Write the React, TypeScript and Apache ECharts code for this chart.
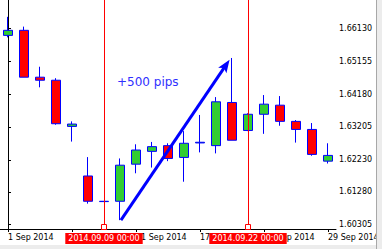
import React, { useEffect, useRef } from "react";
import * as echarts from "echarts";

const dates = [
  "2014.09.01", "2014.09.02", "2014.09.03", "2014.09.04", "2014.09.05",
  "2014.09.08", "2014.09.09", "2014.09.10", "2014.09.11", "2014.09.12",
  "2014.09.15", "2014.09.16", "2014.09.17", "2014.09.18", "2014.09.19",
  "2014.09.22", "2014.09.23", "2014.09.24", "2014.09.25", "2014.09.26",
  "2014.09.29",
];
const opens = [
  1.6592, 1.6607, 1.6468, 1.6459, 1.6322, 1.6175, 1.6099, 1.61, 1.621, 1.6248,
  1.6265, 1.623, 1.6273, 1.6265, 1.6393, 1.631, 1.6358, 1.6385, 1.6337, 1.6313,
  1.6219,
];
const closes = [
  1.6607, 1.6468, 1.6459, 1.633, 1.6329, 1.61, 1.61, 1.6207, 1.6252, 1.6262,
  1.6227, 1.6272, 1.6275, 1.6395, 1.6281, 1.6358, 1.6388, 1.6337, 1.6313, 1.6239,
  1.6236,
];
const lows = [
  1.6586, 1.6468, 1.6438, 1.6327, 1.6277, 1.6093, 1.6099, 1.6044, 1.6183, 1.62,
  1.6219, 1.6158, 1.6245, 1.6242, 1.6281, 1.6308, 1.63, 1.6324, 1.6274, 1.6235,
  1.6212,
];
const highs = [
  1.6647, 1.6618, 1.6499, 1.6465, 1.6337, 1.6231, 1.61, 1.6227, 1.6269, 1.6276,
  1.6272, 1.6308, 1.6356, 1.6409, 1.6525, 1.6361, 1.6415, 1.6412, 1.6341, 1.6332,
  1.6272,
];

const xTickLabels = ["1 Sep 2014", "5 Sep 2014", "11 Sep 2014", "17 Sep 2014", "23 Sep 2014", "29 Sep 2014"];
const xTickStep = 4;
const yTickValues = [1.60305, 1.6128, 1.6223, 1.63205, 1.6418, 1.65155, 1.6613];
const yMin = 1.601775;
const yMax = 1.669694;
const markedDates = ["2014.09.09", "2014.09.22"];
const markedLabels = ["2014.09.09 00:00", "2014.09.22 00:00"];
const arrowFrom = [7.06, 1.6044];
const arrowTo = [13.62, 1.6504];
const annotationText = "+500 pips";

const FONT = "'DejaVu Sans', sans-serif";
const ARROW_HEAD = "path://M0,0 L5,13 L0,10 L-5,13 Z M-6.5,0 M6.5,13";

export default function App() {
  const ref = useRef<HTMLDivElement>(null);

  useEffect(() => {
    if (!ref.current) return;
    const chart = echarts.init(ref.current, undefined, { renderer: "svg" });
    const candles = dates.map((_, i) => [opens[i], closes[i], lows[i], highs[i]]);
    const markerY = yMin + (2 * (yMax - yMin)) / 229;

    const verticalLines = markedDates.map((d, k) => ({
      xAxis: dates.indexOf(d),
      symbol: "none",
      lineStyle: { color: "#ff0000", width: 1, type: "solid" },
      label: {
        show: true,
        position: "start",
        distance: 4,
        formatter: markedLabels[k],
        color: "#ffffff",
        backgroundColor: "#ff0000",
        padding: [1, 3, 1, 3],
        fontSize: 8,
        lineHeight: 9,
        fontFamily: FONT,
      },
    }));

    const option: any = {
      animation: false,
      grid: { left: 0, top: 0, width: 336, height: 229, containLabel: false },
      xAxis: [
        {
          type: "category",
          data: dates,
          boundaryGap: true,
          axisLine: { show: true, lineStyle: { color: "#000", width: 1 } },
          axisTick: {
            show: true,
            alignWithLabel: true,
            interval: (i: number) => i % xTickStep === 0,
            length: 3,
            lineStyle: { color: "#000" },
          },
          axisLabel: {
            interval: (i: number) => i % xTickStep === 0,
            formatter: (_v: string, i: number) => xTickLabels[i / xTickStep] ?? "",
            align: "left",
            margin: 4,
            fontSize: 8,
            fontFamily: FONT,
            color: "#000",
          },
          splitLine: { show: false },
        },
        { type: "value", min: -0.5, max: dates.length - 0.5, show: false },
      ],
      yAxis: {
        type: "value",
        position: "right",
        min: yMin,
        max: yMax,
        offset: -2,
        axisLine: { show: true, lineStyle: { color: "#000", width: 1 } },
        axisTick: { show: true, customValues: yTickValues, length: 3, lineStyle: { color: "#000" } },
        axisLabel: {
          customValues: yTickValues,
          formatter: (v: number) => v.toFixed(5),
          margin: 5,
          fontSize: 8,
          fontFamily: FONT,
          color: "#000",
        },
        splitLine: { show: false },
      },
      series: [
        {
          type: "candlestick",
          xAxisIndex: 0,
          data: candles,
          barWidth: 10,
          silent: true,
          clip: false,
          itemStyle: {
            color: "#32cd32",
            color0: "#ff0000",
            borderColor: "#0000ff",
            borderColor0: "#0000ff",
            borderColorDoji: "#0000ff",
            borderWidth: 1,
          },
        },
        {
          type: "line",
          xAxisIndex: 1,
          data: [arrowFrom, arrowTo],
          symbol: "none",
          showSymbol: false,
          lineStyle: { opacity: 0, width: 0 },
          silent: true,
          clip: false,
          z: 3,
          markLine: {
            silent: true,
            animation: false,
            symbol: ["none", "none"],
            label: { show: false },
            data: [
              ...verticalLines,
              [
                { coord: arrowFrom, symbol: "none", lineStyle: { color: "#0000ff", width: 3, type: "solid" } },
                { coord: arrowTo, symbol: ARROW_HEAD, symbolSize: 13, lineStyle: { color: "#0000ff", width: 3, type: "solid" } },
              ],
            ],
          },
          markPoint: {
            silent: true,
            animation: false,
            symbol: "rect",
            symbolSize: 5,
            label: { show: false },
            itemStyle: { color: "#ffffff", borderColor: "#ff0000", borderWidth: 1 },
            data: markedDates.map((d) => ({ coord: [dates.indexOf(d), markerY] })),
          },
        },
      ],
      graphic: [
        {
          type: "text",
          left: 117,
          top: 76,
          z: 50,
          style: { text: annotationText, fill: "#2f2fff", font: "12px 'DejaVu Sans', sans-serif" },
        },
        { type: "rect", z: 100, shape: { x: 376, y: 0, width: 6, height: 249 }, style: { fill: "#ececec" } },
        { type: "rect", z: 100, shape: { x: 0, y: 245, width: 382, height: 4 }, style: { fill: "#ececec" } },
        { type: "line", z: 101, shape: { x1: 376.5, y1: 0, x2: 376.5, y2: 249 }, style: { stroke: "#a8a8a8", lineWidth: 1 } },
      ],
    };
    chart.setOption(option);
    return () => chart.dispose();
  }, []);

  return (
    <div
      ref={ref}
      style={{ position: "absolute", left: 0, top: 0, width: 382, height: 249, background: "#fff" }}
    />
  );
}
